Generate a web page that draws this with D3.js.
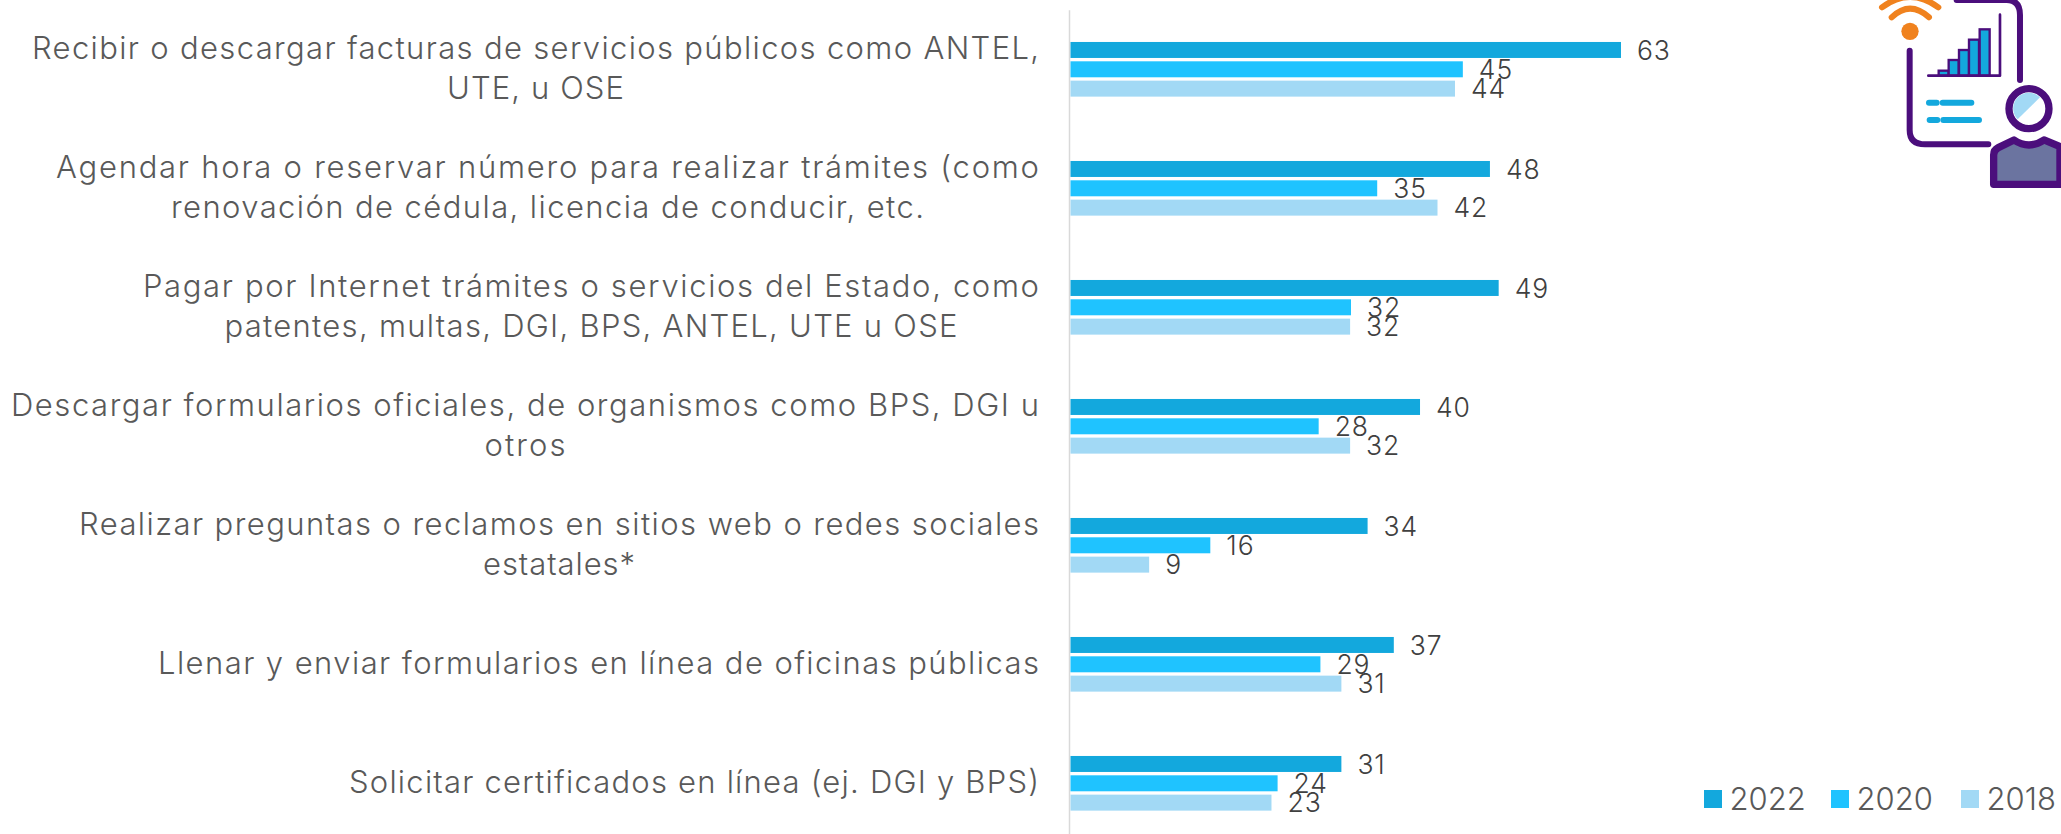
<!DOCTYPE html>
<html><head><meta charset="utf-8">
<script src="https://cdn.jsdelivr.net/npm/d3@7/dist/d3.min.js"></script>
<style>html,body{margin:0;padding:0;background:#fff;overflow:hidden}svg{display:block}text{font-family:Inter,"Open Sans",sans-serif}</style>
</head><body><svg id="c" width="2061" height="834"></svg>
<script>
const categories = [
  ["Recibir o descargar facturas de servicios públicos como ANTEL,","UTE, u OSE"],
  ["Agendar hora o reservar número para realizar trámites (como","renovación de cédula, licencia de conducir, etc."],
  ["Pagar por Internet trámites o servicios del Estado, como","patentes, multas, DGI, BPS, ANTEL, UTE u OSE"],
  ["Descargar formularios oficiales, de organismos como BPS, DGI u","otros"],
  ["Realizar preguntas o reclamos en sitios web o redes sociales","estatales*"],
  ["Llenar y enviar formularios en línea de oficinas públicas"],
  ["Solicitar certificados en línea (ej. DGI y BPS)"]
];
const series = ["2022","2020","2018"];
const values2022 = [63,48,49,40,34,37,31];
const values2020 = [44.9,35.1,32.1,28.4,16,28.6,23.7];
const values2018 = [44,42,32,32,9,31,23];
const seriesValues = [values2022,values2020,values2018];
const colors = ["#13a8dd","#1fc3ff","#a2d9f5"];
// rendered width of each label line (the substitute font is stretched to fit)
const labelLineWidths = [[1007,177],[983,753],[896,733],[1028,81],[960,152],[881],[690]];

const svg = d3.select("#c");
const x = d3.scaleLinear().domain([0,63]).range([1070.5,1621]);
const catKeys = categories.map(c=>c.join(" "));
const y = d3.scaleBand().domain(catKeys).range([9.8,842.8]);
const inner = d3.scaleBand().domain(series).range([-29,29]).paddingInner(.173).paddingOuter(.0865);

// axis line
const axis = svg.append("g").attr("transform","translate(1069,0)").call(d3.axisLeft(y).tickSize(0).tickFormat(""));
axis.select(".domain").attr("stroke","#d9d9d9").attr("stroke-width",1.5);
axis.selectAll(".tick text").remove();

// category labels
const FS = 31, LS = 39.4;
const lab = svg.append("g").selectAll("g").data(categories).join("g")
  .attr("transform",(d,i)=>`translate(0,${y(catKeys[i])+y.bandwidth()/2})`);
lab.each(function(lines,gi){
  const g = d3.select(this);
  const widths = labelLineWidths[gi];
  g.selectAll("text").data(lines).join("text")
    .attr("y",(l,i)=>(i-(lines.length-1)/2)*LS-1.5)
    .attr("dy","0.36em")
    .attr("font-size",FS).attr("font-weight",300).attr("fill","#595959")
    .attr("textLength",(l,i)=>widths[i]).attr("lengthAdjust","spacing")
    .attr("text-anchor","middle").attr("x",1039-widths[0]/2).text(l=>l);
});

// bars + labels
const fmt = d3.format(".0f");
series.forEach((s,k)=>{
  const g = svg.append("g");
  g.selectAll("rect").data(seriesValues[k]).join("rect")
    .attr("x",x(0)).attr("y",(v,i)=>y(catKeys[i])+y.bandwidth()/2+inner(s))
    .attr("width",v=>x(v)-x(0)).attr("height",inner.bandwidth()).attr("fill",colors[k]);
  g.selectAll("text").data(seriesValues[k]).join("text")
    .attr("x",v=>x(v)+16).attr("y",(v,i)=>y(catKeys[i])+y.bandwidth()/2+inner(s)+inner.bandwidth()/2)
    .attr("dy","0.36em").attr("font-size",26.5).attr("font-weight",300).attr("letter-spacing",.9).attr("fill","#404040").text(v=>fmt(v));
});

// legend
const legX = d3.scaleOrdinal().domain(series).range([1704,1831,1961]);
const leg = svg.append("g").selectAll("g").data(series).join("g").attr("transform",s=>`translate(${legX(s)},790)`);
leg.append("rect").attr("width",18).attr("height",18).attr("fill",(s,i)=>colors[i]);
leg.append("text").attr("x",25.5).attr("y",9).attr("dy","0.36em").attr("font-size",31).attr("font-weight",300).attr("fill","#595959").text(s=>s);

// icon
const P="#4b0e7c",B="#13a8dd",O="#f0821e";
const ic = svg.append("g").attr("transform","translate(1860,0) scale(.3333)").attr("fill","none").attr("stroke-linecap","round").attr("stroke-linejoin","round");
ic.append("path").attr("d","M290 0H440Q480 0 480 45V240").attr("stroke",P).attr("stroke-width",18);
ic.append("path").attr("d","M149 152V390Q149 433 195 433H385").attr("stroke",P).attr("stroke-width",18);
ic.append("path").attr("d","M95 52Q150 0 207 52").attr("stroke",O).attr("stroke-width",18);
ic.append("path").attr("d","M66 22Q150 -40 235 22").attr("stroke",O).attr("stroke-width",18);
ic.append("circle").attr("cx",150).attr("cy",94).attr("r",26).attr("fill",O);
ic.append("path").attr("d","M205 227H420V44").attr("stroke",P).attr("stroke-width",8);
[[236,14],[266,46],[297,76],[327,107],[359,138]].forEach(([bx,h])=>{
  ic.append("rect").attr("x",bx).attr("y",226-h).attr("width",30).attr("height",h).attr("fill",B).attr("stroke",P).attr("stroke-width",7).attr("stroke-linejoin","miter");
});
[[207,308,230,308],[248,308,334,308],[209,360,232,360],[250,360,357,360]].forEach(([a,b,c,d])=>{
  ic.append("line").attr("x1",a).attr("y1",b).attr("x2",c).attr("y2",d).attr("stroke",B).attr("stroke-width",18);
});
ic.append("circle").attr("cx",507).attr("cy",326).attr("r",60).attr("fill","#fff").attr("stroke",P).attr("stroke-width",22);
ic.append("path").attr("d","M473 358A47 47 0 0 1 540 292Z").attr("fill","#a2d9f5");
ic.append("path").attr("d","M401 553V465Q401 450 415 443L462 420Q507 450 552 420L600 440V553Z").attr("fill","#6b74a0").attr("stroke",P).attr("stroke-width",22);
</script></body></html>
